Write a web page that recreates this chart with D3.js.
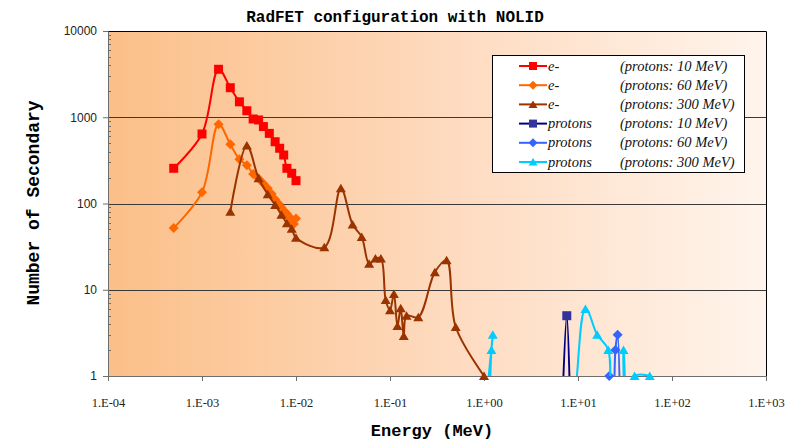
<!DOCTYPE html>
<html>
<head>
<meta charset="utf-8">
<script src="https://cdn.jsdelivr.net/npm/d3@7"></script>
<style>
  body { margin: 0; background: #fff; }
  svg { display: block; }
</style>
</head>
<body>
<div id="chart"></div>
<script>
// tick values
const xTicks = [1e-4, 1e-3, 1e-2, 1e-1, 1, 10, 100, 1000];
const yTicks = [1, 10, 100, 1000, 10000];

// e- from 10 MeV protons
const eP10Energy = [5e-4, 1e-3, 1.5e-3, 2e-3, 2.5e-3, 3e-3, 3.5e-3, 4e-3, 4.5e-3, 5.2e-3, 6e-3, 6.7e-3, 7.4e-3, 8e-3, 9e-3, 1e-2];
const eP10Count  = [256, 640, 3600, 2200, 1510, 1190, 955, 930, 780, 650, 520, 437, 365, 256, 224, 184];

// e- from 60 MeV protons
const eP60Energy = [5e-4, 1e-3, 1.5e-3, 2e-3, 2.5e-3, 3e-3, 3.5e-3, 4e-3, 4.5e-3, 5e-3, 5.5e-3, 6e-3, 6.5e-3, 7e-3, 7.5e-3, 8e-3, 8.5e-3, 9e-3, 9.5e-3, 1e-2];
const eP60Count  = [52, 135, 830, 485, 325, 278, 220, 195, 170, 150, 130, 112, 100, 90, 82, 76, 70, 62, 58, 67];

// e- from 300 MeV protons
const eP300Energy = [2e-3, 3e-3, 4e-3, 5e-3, 6e-3, 7e-3, 8e-3, 9e-3, 1e-2, 2e-2, 3e-2, 4e-2, 5e-2, 6e-2, 7e-2, 8e-2, 0.09, 0.1, 0.11, 0.12, 0.13, 0.14, 0.15, 0.2, 0.3, 0.4, 0.5, 1.0];
const eP300Count  = [80, 470, 196, 128, 96, 74, 59, 51, 40, 31, 150, 57, 41, 20, 23, 23, 7.6, 5.8, 8.9, 3.8, 6.1, 2.9, 5.0, 4.8, 16, 22, 3.7, 1];

// protons from 10 MeV protons
const pP10Energy = [6.5, 7.6, 8.5];
const pP10Count  = [0, 5, 0];

// protons from 60 MeV protons
const pP60Energy = [21.5, 23.5, 25, 26.4, 28.5];
const pP60Count  = [1, 0, 2, 3, 0];

// protons from 300 MeV protons
const pP300Energy = [1.1, 1.2, 1.24, 1.3, 6, 12, 16, 21, 22.5, 27.5, 30.5, 34, 40, 58];
const pP300Count  = [0, 2, 3, 0, 0, 6, 3, 2, 0, 0, 2, 0, 1, 1];

const seriesNames = ["e-", "e-", "e-", "protons", "protons", "protons"];
const beamLabels = ["(protons: 10 MeV)", "(protons: 60 MeV)", "(protons: 300 MeV)",
                    "(protons: 10 MeV)", "(protons: 60 MeV)", "(protons: 300 MeV)"];
const lineColors = ["#ff0000", "#ff6600", "#993300", "#000080", "#3366ff", "#00ccff"];
const markerColors = ["#ff0000", "#ff6600", "#993300", "#333399", "#3366ff", "#00ccff"];
const markerKinds = ["square", "diamond", "triangle", "square", "diamond", "triangle"];
const energies = [eP10Energy, eP60Energy, eP300Energy, pP10Energy, pP60Energy, pP300Energy];
const counts = [eP10Count, eP60Count, eP300Count, pP10Count, pP60Count, pP300Count];

// zero counts can't sit on a log axis: push them below the plot and clip
const FLOOR = 0.1;

const width = 787, height = 440;
const margin = {left: 108, right: 21, top: 31, bottom: 64};

const series = seriesNames.map((name, i) => ({
  name: name,
  beam: beamLabels[i],
  line: lineColors[i],
  fill: markerColors[i],
  kind: markerKinds[i],
  points: energies[i].map((e, j) => ({e: e, n: counts[i][j]}))
}));

const svg = d3.select("#chart").append("svg")
  .attr("width", width)
  .attr("height", height);

const x = d3.scaleLog().domain([1e-4, 1e3]).range([margin.left, width - margin.right]);
const y = d3.scaleLog().domain([1, 1e4]).range([height - margin.bottom, margin.top]);

const defs = svg.append("defs");
const grad = defs.append("linearGradient").attr("id", "bg")
  .attr("x1", 0).attr("x2", 1).attr("y1", 0).attr("y2", 0);
grad.append("stop").attr("offset", "0%").attr("stop-color", "#fbbf88");
grad.append("stop").attr("offset", "55%").attr("stop-color", "#fedcc2");
grad.append("stop").attr("offset", "100%").attr("stop-color", "#fff4ec");

defs.append("clipPath").attr("id", "plotClip")
  .append("rect")
  .attr("x", x.range()[0]).attr("y", y.range()[1])
  .attr("width", x.range()[1] - x.range()[0])
  .attr("height", y.range()[0] - y.range()[1]);

// plot background
svg.append("rect")
  .attr("x", x.range()[0]).attr("y", y.range()[1])
  .attr("width", x.range()[1] - x.range()[0])
  .attr("height", y.range()[0] - y.range()[1])
  .attr("fill", "url(#bg)");

// horizontal gridlines
svg.append("g")
  .selectAll("line")
  .data([10, 100, 1000])
  .enter()
  .append("line")
  .attr("x1", x.range()[0]).attr("x2", x.range()[1])
  .attr("y1", d => Math.round(y(d)) + 0.5).attr("y2", d => Math.round(y(d)) + 0.5)
  .attr("stroke", "#3a3a3a");

// top and right border
svg.append("path")
  .attr("d", "M" + x.range()[0] + "," + (y.range()[1] + 0.5) + "H" + (x.range()[1] + 0.5) + "V" + y.range()[0])
  .attr("fill", "none")
  .attr("stroke", "#000");

// y axis
const yAxis = svg.append("g")
  .attr("transform", "translate(" + x.range()[0] + ",0)")
  .call(d3.axisLeft(y).tickValues(yTicks).tickFormat(d3.format("d")).tickSize(5).tickPadding(6));
yAxis.select(".domain").attr("stroke", "#6e6e6e");
yAxis.selectAll(".tick line").attr("stroke", "#6e6e6e");
yAxis.selectAll(".tick text")
  .attr("font-family", "'Liberation Sans', Arial, sans-serif")
  .attr("font-size", 12)
  .attr("fill", "#222");

// log minor ticks inside the y axis
const minors = [];
[1, 10, 100, 1000].forEach(dec => {
  for (let k = 2; k <= 9; k++) minors.push(dec * k);
});
svg.append("g")
  .selectAll("line")
  .data(minors)
  .enter()
  .append("line")
  .attr("x1", x.range()[0]).attr("x2", x.range()[0] + 3)
  .attr("y1", d => Math.round(y(d)) + 0.5).attr("y2", d => Math.round(y(d)) + 0.5)
  .attr("stroke", "#6e6e6e");

// x axis
const fmtE = d => {
  const p = Math.round(Math.log10(d));
  return "1.E" + (p < 0 ? "-" : "+") + String(Math.abs(p)).padStart(2, "0");
};
const xAxis = svg.append("g")
  .attr("transform", "translate(0," + y.range()[0] + ")")
  .call(d3.axisBottom(x).tickValues(xTicks).tickFormat(fmtE).tickSize(5).tickPadding(17));
xAxis.select(".domain").attr("stroke", "#6e6e6e");
xAxis.selectAll(".tick line").attr("stroke", "#6e6e6e");
xAxis.selectAll(".tick text")
  .attr("font-family", "'Liberation Serif', 'Times New Roman', serif")
  .attr("font-size", 12.5)
  .attr("fill", "#222");

// markers
const markerPath = (kind, s) => {
  if (kind === "square") return "M" + (-s) + "," + (-s) + "h" + 2 * s + "v" + 2 * s + "h" + (-2 * s) + "Z";
  if (kind === "diamond") return "M0," + (-s - 0.5) + "L" + (s + 0.5) + ",0L0," + (s + 0.5) + "L" + (-s - 0.5) + ",0Z";
  return "M0," + (-s) + "L" + (s + 0.5) + "," + (s - 0.5) + "L" + (-s - 0.5) + "," + (s - 0.5) + "Z";
};

const line = d3.line()
  .x(d => x(d.e))
  .y(d => y(d.n > 0 ? d.n : FLOOR))
  .curve(d3.curveCatmullRom.alpha(0.5));

series.forEach(s => {
  const g = svg.append("g");
  g.append("path")
    .attr("clip-path", "url(#plotClip)")
    .attr("d", line(s.points))
    .attr("fill", "none")
    .attr("stroke", s.line)
    .attr("stroke-width", 2)
    .attr("stroke-linejoin", "round");
  g.selectAll("path.mk")
    .data(s.points.filter(d => d.n > 0))
    .enter()
    .append("path")
    .attr("class", "mk")
    .attr("transform", d => "translate(" + x(d.e) + "," + y(d.n) + ")")
    .attr("d", markerPath(s.kind, 4.5))
    .attr("fill", s.fill);
});

// legend
const legend = svg.append("g");
legend.append("rect")
  .attr("x", 492.5).attr("y", 55.5)
  .attr("width", 252).attr("height", 117)
  .attr("fill", "#fff")
  .attr("stroke", "#000");

const rowY = d3.scaleLinear().domain([0, 5]).range([66, 162]);
const rows = legend.selectAll("g.row")
  .data(series)
  .enter()
  .append("g")
  .attr("class", "row")
  .attr("transform", (d, i) => "translate(0," + rowY(i) + ")");
rows.append("line")
  .attr("x1", 519).attr("x2", 547)
  .attr("stroke", d => d.line)
  .attr("stroke-width", 2);
rows.append("path")
  .attr("transform", "translate(533,0)")
  .attr("d", d => markerPath(d.kind, 4))
  .attr("fill", d => d.fill);
rows.append("text")
  .attr("x", 548).attr("y", 4.5)
  .attr("font-family", "'Liberation Serif', 'Times New Roman', serif")
  .attr("font-style", "italic")
  .attr("font-size", 14.5)
  .attr("fill", "#111")
  .text(d => d.name);
rows.append("text")
  .attr("x", 620).attr("y", 4.5)
  .attr("font-family", "'Liberation Serif', 'Times New Roman', serif")
  .attr("font-style", "italic")
  .attr("font-size", 14.5)
  .attr("fill", "#111")
  .text(d => d.beam);

// titles
svg.append("text")
  .attr("x", 395).attr("y", 22)
  .attr("text-anchor", "middle")
  .attr("font-family", "'Liberation Mono', 'Courier New', monospace")
  .attr("font-weight", "bold")
  .attr("font-size", 16)
  .text("RadFET configuration with NOLID");

svg.append("text")
  .attr("x", 432).attr("y", 436)
  .attr("text-anchor", "middle")
  .attr("font-family", "'Liberation Mono', 'Courier New', monospace")
  .attr("font-weight", "bold")
  .attr("font-size", 17)
  .text("Energy (MeV)");

svg.append("text")
  .attr("transform", "translate(39,203) rotate(-90)")
  .attr("text-anchor", "middle")
  .attr("font-family", "'Liberation Mono', 'Courier New', monospace")
  .attr("font-weight", "bold")
  .attr("font-size", 18)
  .text("Number of Secondary");
</script>
</body>
</html>
